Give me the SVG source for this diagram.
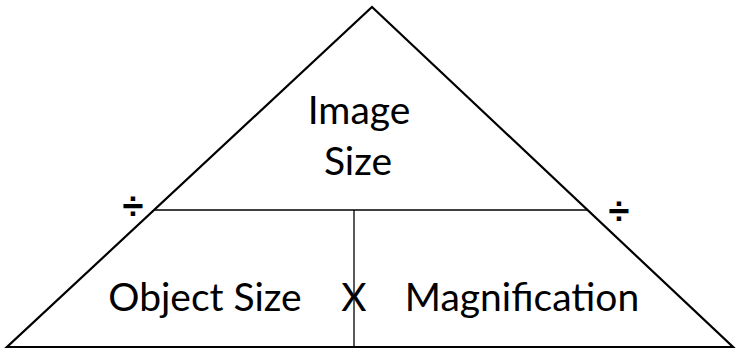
<svg xmlns="http://www.w3.org/2000/svg" width="741" height="353" viewBox="0 0 741 353">
  <style>
    .label { font-family: Lato, "Open Sans", "Liberation Sans", sans-serif; font-size: 39px; fill: #000; text-anchor: middle; }
    .op { font-family: "Liberation Sans", Arial, sans-serif; font-size: 38px; font-weight: bold; fill: #000; text-anchor: middle; }
    .outline { fill: #fff; stroke: #000; stroke-width: 2.2; stroke-linejoin: miter; }
    .divider { fill: none; stroke: #000; stroke-width: 1.3; }
  </style>
  <rect width="741" height="353" fill="#fff"/>
  <g id="triangle">
    <polygon class="outline" points="372,7 733,347 7,347"/>
  </g>
  <g id="connectors">
    <line class="divider" x1="155" y1="210" x2="588" y2="210"/>
    <line class="divider" x1="354" y1="210" x2="354" y2="347"/>
  </g>
  <g id="image-size">
    <text class="label" x="359" y="124">Image</text>
    <text class="label" x="358" y="175">Size</text>
  </g>
  <g id="object-size">
    <text class="label" x="205" y="311">Object Size</text>
  </g>
  <g id="times">
    <text class="label" x="354" y="311">X</text>
  </g>
  <g id="magnification">
    <text class="label" x="522" y="311">Magnification</text>
  </g>
  <g id="divide-left">
    <text class="op" x="133" y="219">÷</text>
  </g>
  <g id="divide-right">
    <text class="op" x="619" y="224">÷</text>
  </g>
</svg>
